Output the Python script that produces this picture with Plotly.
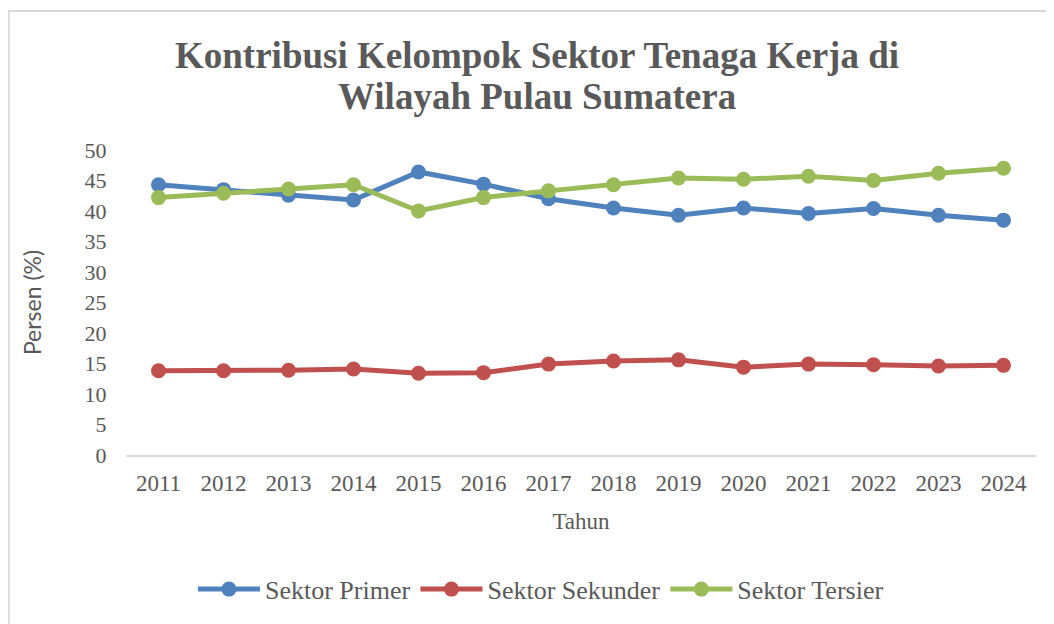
import plotly.graph_objects as go

# Data
tahun = ["2011", "2012", "2013", "2014", "2015", "2016", "2017",
         "2018", "2019", "2020", "2021", "2022", "2023", "2024"]
sektor_primer = [44.3, 43.5, 42.6, 41.8, 46.4, 44.4, 42.0,
                 40.5, 39.3, 40.5, 39.6, 40.4, 39.3, 38.5]
sektor_sekunder = [13.8, 13.8, 13.9, 14.1, 13.4, 13.5, 14.9,
                   15.4, 15.6, 14.4, 14.9, 14.8, 14.6, 14.7]
sektor_tersier = [42.2, 42.9, 43.6, 44.3, 40.0, 42.2, 43.3,
                  44.3, 45.4, 45.2, 45.7, 45.0, 46.2, 47.0]
y_ticks = [0, 5, 10, 15, 20, 25, 30, 35, 40, 45, 50]
judul = ["Kontribusi Kelompok Sektor Tenaga Kerja di", "Wilayah Pulau Sumatera"]

serif = "Liberation Serif"
grey_text = "#595959"

series = [
    ("Sektor Primer", sektor_primer, "#4f81bd"),
    ("Sektor Sekunder", sektor_sekunder, "#c0504d"),
    ("Sektor Tersier", sektor_tersier, "#9bbb59"),
]

fig = go.Figure()
for name, values, colour in series:
    fig.add_trace(go.Scatter(
        x=tahun, y=values, name=name, mode="lines+markers",
        line=dict(color=colour, width=5),
        marker=dict(color=colour, size=15),
    ))

# title lines as separate annotations so the line spacing can be set
title_notes = []
for line, y_px in zip(judul, [55, 97]):
    title_notes.append(dict(
        text=f"<b>{line}</b>",
        xref="paper", yref="paper", x=(537 - 125.5) / 911, y=(455 - y_px) / 305,
        xanchor="center", yanchor="middle", showarrow=False,
        font=dict(family=serif, size=37, color=grey_text),
    ))

# page body has an 8px margin, so the margins are shifted by that much
fig.update_layout(
    width=1054, height=624,
    margin=dict(l=117.5, r=25.5, t=142, b=177),
    paper_bgcolor="white", plot_bgcolor="white",
    font=dict(family=serif, color=grey_text, size=22),
    showlegend=True,
    legend=dict(orientation="h", x=0.456, xanchor="center", y=-0.44, yanchor="middle",
                font=dict(family=serif, size=26, color=grey_text),
                itemwidth=62, tracegroupgap=0),
    xaxis=dict(
        type="category", showgrid=False, showline=True, linecolor="#d9d9d9", linewidth=2,
        ticks="outside", ticklen=6, tickcolor="rgba(0,0,0,0)",
        tickfont=dict(family=serif, size=23, color=grey_text),
        title=dict(text="Tahun", font=dict(family=serif, size=23, color=grey_text), standoff=18),
        range=[-0.5, 13.5],
    ),
    yaxis=dict(
        range=[0, 50], tickvals=y_ticks, showgrid=False, showline=False, zeroline=False,
        ticks="outside", ticklen=14, tickcolor="rgba(0,0,0,0)",
        tickfont=dict(family=serif, size=22, color=grey_text),
        title=dict(text="Persen (%)", font=dict(family="Lato", size=23,
                                                  color=grey_text), standoff=36),
    ),
    annotations=title_notes,
    shapes=[dict(
        type="rect", xref="paper", yref="paper",
        x0=(8 - 125.5) / 911, x1=1.2, y0=-1.0, y1=(455 - 11) / 305,
        line=dict(color="#d9d9d9", width=2), layer="below",
    )],
)

fig.write_html("out.html")
